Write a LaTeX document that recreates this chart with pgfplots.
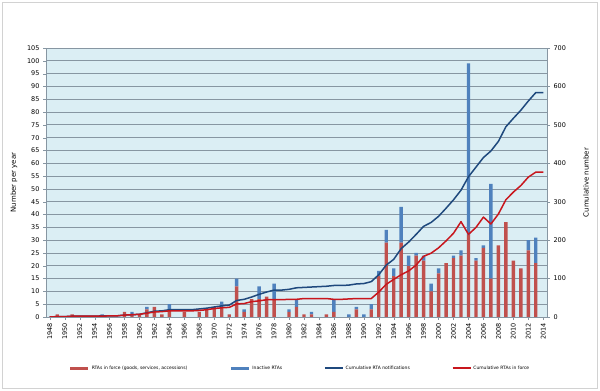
\documentclass[border=0pt]{standalone}
\usepackage{pgfplots}
\pgfplotsset{compat=1.18}
\usepackage{pgfplotstable}
\usepackage{fontspec}
\setmainfont{DejaVu Sans}
\definecolor{barred}{HTML}{C0504D}
\definecolor{barblue}{HTML}{4F81BD}
\definecolor{lineblue}{HTML}{1F497D}
\definecolor{linered}{HTML}{C8161D}
\definecolor{plotbg}{HTML}{DBEEF4}
\definecolor{gridc}{HTML}{8796A2}

\pgfplotstableread{
year inforce inactive cumnotif cuminforce
1948 0 0 0 0
1949 1 0 1 1
1950 0 0 1 1
1951 1 0 2 2
1952 0 0 2 2
1953 0 0 2 2
1954 0 0 2 2
1955 0 1 3 2
1956 0 0 3 3
1957 0 0 3 3
1958 2 0 5 5
1959 1 1 6 6
1960 1 0 7 7
1961 3 1 11 10
1962 4 0 15 13
1963 1 0 16 14
1964 3 2 19 16
1965 0 0 19 16
1966 2 0 19 16
1967 0 0 19 16
1968 2 0 21 17
1969 3 0 23 19
1970 4 0 26 22
1971 4 2 29 24
1972 1 0 31 25
1973 12 3 43 34
1974 2 1 46 35
1975 7 0 52 40
1976 7 5 59 42
1977 8 0 65 45
1978 7 6 70 45
1979 0 0 70 45
1980 2 1 72 46
1981 4 3 76 46
1982 1 0 77 48
1983 1 1 78 48
1984 0 0 79 48
1985 1 0 80 48
1986 2 5 82 46
1987 0 0 82 46
1988 0 1 83 47
1989 3 1 86 48
1990 0 1 87 48
1991 3 2 92 48
1992 16 2 110 65
1993 29 5 135 85
1994 16 3 150 98
1995 29 14 178 110
1996 20 4 195 120
1997 24 1 215 135
1998 22 2 236 158
1999 10 3 246 166
2000 17 2 262 180
2001 21 0 283 198
2002 23 1 305 218
2003 24 2 330 248
2004 32 67 365 215
2005 22 1 390 233
2006 27 1 415 260
2007 15 37 432 242
2008 28 0 457 268
2009 37 0 495 305
2010 22 0 517 325
2011 19 0 538 342
2012 26 4 562 364
2013 21 10 584 377
2014 0 0 584 377
}\data

\begin{document}
\begin{tikzpicture}
\useasboundingbox (0,0) rectangle (600bp,391bp);
\fill[white] (0,0) rectangle (600bp,391bp);
\draw[gray!35, line width=1bp] (2.5bp,2.5bp) rectangle (597.5bp,388.5bp);
\begin{axis}[
  at={(46bp,74bp)}, anchor=south west,
  width=501bp, height=269bp, scale only axis,
  xmin=1947.5, xmax=2014.5, ymin=0, ymax=105,
  ytick={0,5,...,105}, xtick={1948,1950,...,2014},
  ymajorgrids, grid style={gridc, line width=0.8bp},
  axis background/.style={fill=plotbg},
  ybar stacked, bar width=3.4bp,
  axis line style={gridc},
  tick style={gridc}, tick align=outside, major tick length=3bp,
  ytick pos=left, xtick pos=bottom,
  /pgf/number format/assume math mode=true,
  /pgf/number format/1000 sep={},
  x tick label style={rotate=90, anchor=east, font=\fontsize{6.5}{7}\selectfont},
  y tick label style={font=\fontsize{6.5}{7}\selectfont},
  ylabel={Number per year},
  every axis y label/.style={at={(axis description cs:-0.064,0.5)}, rotate=90, anchor=center, font=\fontsize{7}{8}\selectfont},
]
\addplot[fill=barred, draw=none] table[x=year, y=inforce]{\data};
\addplot[fill=barblue, draw=none] table[x=year, y=inactive]{\data};
\end{axis}
\begin{axis}[
  at={(46bp,74bp)}, anchor=south west,
  width=501bp, height=269bp, scale only axis,
  xmin=1947.5, xmax=2014.5, ymin=0, ymax=700,
  axis x line=none, axis y line*=right,
  ytick={0,100,...,700},
  axis line style={gridc},
  tick style={gridc}, tick align=outside, major tick length=3bp,
  /pgf/number format/assume math mode=true,
  y tick label style={font=\fontsize{6.5}{7}\selectfont},
  ylabel={Cumulative number},
  every axis y label/.style={at={(axis description cs:1.078,0.5)}, rotate=90, anchor=center, font=\fontsize{7}{8}\selectfont},
  legend columns=4,
  legend image code/.code={\draw[#1] (0bp,0bp) -- (18bp,0bp);},
  legend style={draw=none, fill=none, font=\fontsize{4.5}{5}\selectfont,
    at={(axis description cs:0.507,-0.19)}, anchor=center,
    /tikz/every even column/.append style={column sep=40bp}},
]
\addlegendimage{barred, line width=3bp}
\addlegendentry{RTAs in force (goods, services, accessions)}
\addlegendimage{barblue, line width=3bp}
\addlegendentry{Inactive RTAs}
\addplot[lineblue, line width=1.5bp, line join=round, mark=none] table[x=year, y=cumnotif]{\data};
\addlegendentry{Cumulative RTA notifications}
\addplot[linered, line width=1.5bp, line join=round, mark=none] table[x=year, y=cuminforce]{\data};
\addlegendentry{Cumulative RTAs in force}
\end{axis}
\end{tikzpicture}
\end{document}
